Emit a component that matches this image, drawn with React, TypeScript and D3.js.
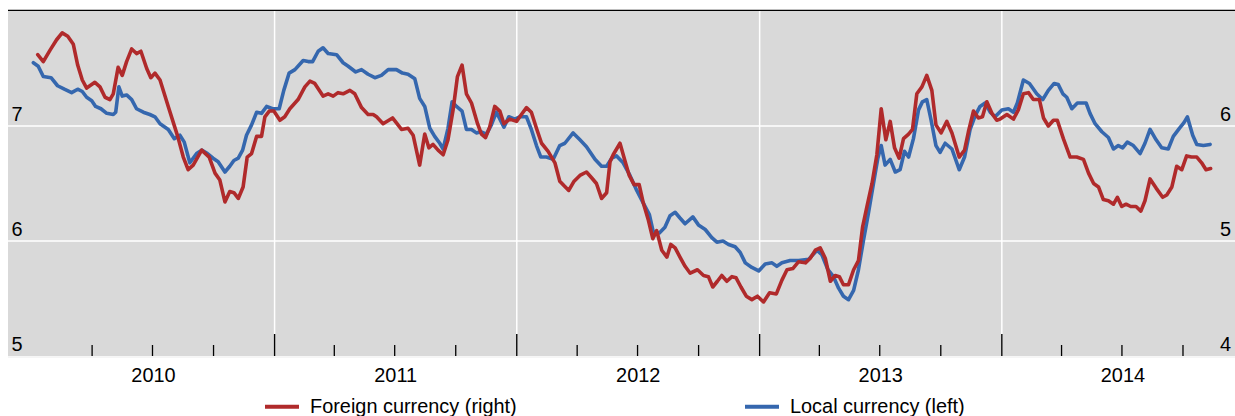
import React from "react";
import * as d3 from "d3";

// [decimal year, value] — local currency, left axis
const localCurrency: [number, number][] = [
  [2010.004, 7.55], [2010.024, 7.52], [2010.045, 7.43], [2010.077, 7.42], [2010.104, 7.35],
  [2010.132, 7.32], [2010.162, 7.29], [2010.187, 7.32], [2010.206, 7.30], [2010.224, 7.25],
  [2010.245, 7.22], [2010.261, 7.17], [2010.283, 7.15], [2010.307, 7.11], [2010.334, 7.10],
  [2010.344, 7.12], [2010.357, 7.34], [2010.371, 7.26], [2010.389, 7.27], [2010.410, 7.23],
  [2010.430, 7.15], [2010.458, 7.12], [2010.485, 7.10], [2010.506, 7.08], [2010.527, 7.02],
  [2010.561, 6.97], [2010.586, 6.89], [2010.609, 6.92], [2010.627, 6.86], [2010.650, 6.68],
  [2010.678, 6.76], [2010.699, 6.79], [2010.723, 6.76], [2010.746, 6.72], [2010.767, 6.69],
  [2010.795, 6.60], [2010.815, 6.65], [2010.832, 6.70], [2010.850, 6.72], [2010.868, 6.79],
  [2010.884, 6.92], [2010.905, 7.01], [2010.926, 7.12], [2010.946, 7.11], [2010.967, 7.17],
  [2010.992, 7.15], [2011.019, 7.15], [2011.038, 7.31], [2011.060, 7.46], [2011.084, 7.49],
  [2011.118, 7.57], [2011.139, 7.56], [2011.157, 7.56], [2011.180, 7.65], [2011.200, 7.68],
  [2011.221, 7.63], [2011.256, 7.62], [2011.283, 7.55], [2011.304, 7.52], [2011.335, 7.47],
  [2011.359, 7.49], [2011.386, 7.45], [2011.414, 7.42], [2011.441, 7.44], [2011.469, 7.49],
  [2011.503, 7.49], [2011.528, 7.46], [2011.551, 7.45], [2011.579, 7.41], [2011.599, 7.24],
  [2011.620, 7.17], [2011.641, 6.98], [2011.661, 6.91], [2011.682, 6.85], [2011.696, 6.80],
  [2011.716, 6.98], [2011.733, 7.21], [2011.751, 7.17], [2011.774, 7.13], [2011.792, 6.97],
  [2011.813, 6.97], [2011.833, 6.94], [2011.851, 6.95], [2011.875, 6.93], [2011.895, 7.01],
  [2011.916, 7.12], [2011.947, 6.99], [2011.967, 7.08], [2011.992, 7.06], [2012.012, 7.08],
  [2012.040, 7.08], [2012.060, 6.97], [2012.081, 6.83], [2012.099, 6.73], [2012.122, 6.73],
  [2012.150, 6.71], [2012.177, 6.83], [2012.198, 6.85], [2012.232, 6.94], [2012.260, 6.88],
  [2012.287, 6.82], [2012.322, 6.71], [2012.349, 6.65], [2012.370, 6.65], [2012.391, 6.72],
  [2012.411, 6.74], [2012.438, 6.68], [2012.466, 6.57], [2012.494, 6.44], [2012.521, 6.33],
  [2012.546, 6.23], [2012.562, 6.08], [2012.587, 6.07], [2012.610, 6.12], [2012.631, 6.22],
  [2012.652, 6.25], [2012.672, 6.20], [2012.693, 6.15], [2012.725, 6.21], [2012.748, 6.14],
  [2012.776, 6.10], [2012.803, 6.03], [2012.824, 5.99], [2012.849, 6.00], [2012.872, 5.97],
  [2012.899, 5.95], [2012.920, 5.90], [2012.941, 5.81], [2012.968, 5.77], [2012.996, 5.74],
  [2013.023, 5.80], [2013.051, 5.81], [2013.071, 5.78], [2013.092, 5.81], [2013.126, 5.83],
  [2013.161, 5.83], [2013.202, 5.84], [2013.237, 5.92], [2013.257, 5.88], [2013.282, 5.75],
  [2013.305, 5.69], [2013.326, 5.59], [2013.346, 5.52], [2013.367, 5.49], [2013.388, 5.57],
  [2013.408, 5.75], [2013.429, 6.01], [2013.449, 6.24], [2013.470, 6.50], [2013.488, 6.72],
  [2013.502, 6.83], [2013.518, 6.66], [2013.539, 6.71], [2013.560, 6.60], [2013.580, 6.62],
  [2013.598, 6.78], [2013.615, 6.73], [2013.635, 6.89], [2013.656, 7.14], [2013.672, 7.21],
  [2013.690, 7.23], [2013.708, 7.05], [2013.728, 6.83], [2013.745, 6.77], [2013.766, 6.85],
  [2013.794, 6.80], [2013.824, 6.62], [2013.846, 6.73], [2013.869, 6.97], [2013.890, 7.09],
  [2013.910, 7.17], [2013.931, 7.20], [2013.952, 7.12], [2013.972, 7.08], [2014.000, 7.14],
  [2014.027, 7.15], [2014.048, 7.12], [2014.064, 7.20], [2014.089, 7.40], [2014.114, 7.37],
  [2014.144, 7.28], [2014.169, 7.23], [2014.192, 7.31], [2014.216, 7.37], [2014.233, 7.36],
  [2014.252, 7.28], [2014.268, 7.25], [2014.289, 7.15], [2014.312, 7.20], [2014.348, 7.20],
  [2014.364, 7.11], [2014.385, 7.02], [2014.413, 6.95], [2014.440, 6.90], [2014.461, 6.80],
  [2014.481, 6.83], [2014.499, 6.81], [2014.518, 6.86], [2014.543, 6.83], [2014.571, 6.76],
  [2014.591, 6.85], [2014.612, 6.97], [2014.637, 6.88], [2014.660, 6.81], [2014.687, 6.80],
  [2014.708, 6.91], [2014.733, 6.98], [2014.752, 7.03], [2014.766, 7.08], [2014.788, 6.92],
  [2014.805, 6.84], [2014.832, 6.83], [2014.860, 6.84],
];

// [decimal year, value] — foreign currency, right axis
const foreignCurrency: [number, number][] = [
  [2010.022, 6.62], [2010.045, 6.56], [2010.073, 6.66], [2010.100, 6.75], [2010.123, 6.81],
  [2010.146, 6.78], [2010.169, 6.71], [2010.187, 6.53], [2010.206, 6.40], [2010.224, 6.33],
  [2010.258, 6.38], [2010.279, 6.34], [2010.300, 6.25], [2010.320, 6.23], [2010.334, 6.28],
  [2010.354, 6.51], [2010.371, 6.44], [2010.389, 6.56], [2010.410, 6.67], [2010.430, 6.63],
  [2010.448, 6.65], [2010.472, 6.50], [2010.489, 6.42], [2010.506, 6.46], [2010.527, 6.40],
  [2010.561, 6.17], [2010.600, 5.91], [2010.623, 5.73], [2010.643, 5.62], [2010.664, 5.66],
  [2010.699, 5.79], [2010.730, 5.73], [2010.754, 5.59], [2010.774, 5.53], [2010.795, 5.34],
  [2010.815, 5.43], [2010.832, 5.42], [2010.850, 5.37], [2010.870, 5.47], [2010.887, 5.73],
  [2010.905, 5.76], [2010.926, 5.91], [2010.946, 5.91], [2010.960, 6.08], [2010.978, 6.13],
  [2010.997, 6.13], [2011.022, 6.05], [2011.042, 6.08], [2011.063, 6.15], [2011.097, 6.23],
  [2011.125, 6.34], [2011.146, 6.39], [2011.166, 6.37], [2011.200, 6.26], [2011.221, 6.28],
  [2011.242, 6.26], [2011.262, 6.29], [2011.283, 6.28], [2011.311, 6.31], [2011.331, 6.28],
  [2011.359, 6.16], [2011.386, 6.10], [2011.407, 6.10], [2011.421, 6.08], [2011.448, 6.02],
  [2011.487, 6.07], [2011.524, 5.97], [2011.551, 5.98], [2011.572, 5.92], [2011.599, 5.66],
  [2011.620, 5.93], [2011.637, 5.81], [2011.654, 5.84], [2011.675, 5.79], [2011.696, 5.75],
  [2011.716, 5.88], [2011.737, 6.14], [2011.755, 6.43], [2011.774, 6.53], [2011.792, 6.28],
  [2011.813, 6.20], [2011.838, 6.02], [2011.854, 5.93], [2011.871, 5.90], [2011.888, 5.99],
  [2011.909, 6.17], [2011.930, 6.13], [2011.947, 6.02], [2011.971, 6.06], [2011.999, 6.04],
  [2012.019, 6.10], [2012.040, 6.16], [2012.060, 6.12], [2012.081, 5.98], [2012.102, 5.85],
  [2012.129, 5.78], [2012.157, 5.68], [2012.177, 5.52], [2012.195, 5.48], [2012.214, 5.44],
  [2012.236, 5.52], [2012.260, 5.57], [2012.287, 5.60], [2012.308, 5.55], [2012.328, 5.50],
  [2012.349, 5.37], [2012.370, 5.42], [2012.384, 5.69], [2012.397, 5.75], [2012.425, 5.85],
  [2012.445, 5.70], [2012.463, 5.57], [2012.483, 5.49], [2012.504, 5.49], [2012.521, 5.33],
  [2012.542, 5.18], [2012.560, 5.02], [2012.576, 5.09], [2012.597, 4.92], [2012.618, 4.86],
  [2012.634, 4.97], [2012.652, 4.94], [2012.672, 4.86], [2012.693, 4.78], [2012.714, 4.72],
  [2012.744, 4.75], [2012.769, 4.70], [2012.789, 4.69], [2012.807, 4.60], [2012.826, 4.65],
  [2012.844, 4.70], [2012.865, 4.65], [2012.886, 4.69], [2012.903, 4.68], [2012.923, 4.60],
  [2012.945, 4.52], [2012.968, 4.49], [2012.991, 4.52], [2013.016, 4.47], [2013.041, 4.55],
  [2013.069, 4.54], [2013.092, 4.66], [2013.113, 4.75], [2013.137, 4.76], [2013.161, 4.82],
  [2013.189, 4.81], [2013.209, 4.85], [2013.230, 4.92], [2013.250, 4.94], [2013.271, 4.85],
  [2013.292, 4.65], [2013.312, 4.70], [2013.329, 4.69], [2013.346, 4.62], [2013.367, 4.62],
  [2013.388, 4.75], [2013.408, 4.83], [2013.425, 5.12], [2013.443, 5.30], [2013.464, 5.50],
  [2013.484, 5.75], [2013.502, 6.15], [2013.521, 5.88], [2013.539, 6.04], [2013.557, 5.81],
  [2013.576, 5.72], [2013.594, 5.89], [2013.615, 5.93], [2013.631, 5.97], [2013.649, 6.28],
  [2013.670, 6.34], [2013.690, 6.44], [2013.711, 6.31], [2013.728, 6.01], [2013.749, 5.94],
  [2013.773, 6.04], [2013.794, 5.94], [2013.824, 5.73], [2013.846, 5.79], [2013.862, 5.95],
  [2013.883, 6.13], [2013.903, 6.07], [2013.920, 6.08], [2013.938, 6.21], [2013.959, 6.11],
  [2013.979, 6.05], [2013.993, 6.06], [2014.021, 6.10], [2014.048, 6.06], [2014.068, 6.14],
  [2014.089, 6.28], [2014.110, 6.29], [2014.130, 6.23], [2014.155, 6.23], [2014.172, 6.07],
  [2014.192, 6.00], [2014.213, 6.05], [2014.229, 6.05], [2014.254, 5.89], [2014.282, 5.73],
  [2014.309, 5.73], [2014.337, 5.71], [2014.358, 5.59], [2014.379, 5.50], [2014.399, 5.47],
  [2014.419, 5.36], [2014.440, 5.35], [2014.461, 5.32], [2014.477, 5.38], [2014.495, 5.30],
  [2014.513, 5.32], [2014.532, 5.30], [2014.554, 5.30], [2014.574, 5.26], [2014.591, 5.35],
  [2014.612, 5.54], [2014.637, 5.46], [2014.664, 5.38], [2014.681, 5.40], [2014.702, 5.47],
  [2014.722, 5.65], [2014.743, 5.62], [2014.763, 5.74], [2014.783, 5.73], [2014.805, 5.73],
  [2014.825, 5.68], [2014.843, 5.62], [2014.862, 5.63],
];

const years = [2010, 2011, 2012, 2013, 2014];
const leftTicks = [5, 6, 7];
const rightTicks = [4, 5, 6];
const legendItems = [
  { label: "Foreign currency (right)", color: "#b02a2b" },
  { label: "Local currency (left)", color: "#3567ae" },
];

const W = 1235;
const H = 416;
const plot = { left: 8, right: 1235, top: 11, bottom: 356 };
const FONT = "'Liberation Sans', Arial, sans-serif";
const FS = 19.9;

function decToDate(t: number): Date {
  const y = Math.floor(t);
  const s = new Date(y, 0, 1).getTime();
  const e = new Date(y + 1, 0, 1).getTime();
  return new Date(s + (t - y) * (e - s));
}

export default function App() {
  const x = d3
    .scaleTime()
    .domain([decToDate(2009.8993), decToDate(2014.9627)])
    .range([plot.left, plot.right]);
  const yL = d3.scaleLinear().domain([5, 8]).range([plot.bottom, plot.top]);
  const yR = d3.scaleLinear().domain([4, 7]).range([plot.bottom, plot.top]);

  const lineL = d3
    .line<[number, number]>()
    .x((d) => x(decToDate(d[0])))
    .y((d) => yL(d[1]))
    .curve(d3.curveLinear);
  const lineR = d3
    .line<[number, number]>()
    .x((d) => x(decToDate(d[0])))
    .y((d) => yR(d[1]))
    .curve(d3.curveLinear);

  const yearStarts = years.slice(1).map((y) => new Date(y, 0, 1));
  const quarters = d3
    .timeMonth.every(3)!
    .range(new Date(2010, 0, 1), new Date(2015, 0, 1))
    .filter((d) => d.getMonth() !== 0);
  const yearMids = years.map(
    (y) => new Date((new Date(y, 0, 1).getTime() + new Date(y + 1, 0, 1).getTime()) / 2)
  );

  return (
    <svg
      width={W}
      height={H}
      style={{ position: "absolute", left: 0, top: 0, background: "#fff" }}
      fontFamily={FONT}
    >
      <rect
        x={plot.left}
        y={plot.top}
        width={plot.right - plot.left}
        height={plot.bottom - plot.top}
        fill="#d9d9d9"
      />
      <line x1={plot.left} x2={plot.right} y1={10.3} y2={10.3} stroke="#000" strokeWidth={1.3} />
      {[6, 7].map((v) => (
        <line key={"hg" + v} x1={plot.left} x2={plot.right} y1={yL(v)} y2={yL(v)} stroke="#fff" strokeWidth={1.5} />
      ))}
      {yearStarts.map((d, i) => (
        <line key={"vg" + i} x1={x(d)} x2={x(d)} y1={plot.top} y2={plot.bottom} stroke="#fff" strokeWidth={1.5} />
      ))}
      <line x1={plot.left} x2={plot.right} y1={plot.bottom + 1} y2={plot.bottom + 1} stroke="#ececec" strokeWidth={1} />
      {quarters.map((d, i) => (
        <line key={"mt" + i} x1={x(d)} x2={x(d)} y1={plot.bottom} y2={plot.bottom - 11} stroke="#000" strokeWidth={1.3} />
      ))}
      {yearStarts.map((d, i) => (
        <line key={"Mt" + i} x1={x(d)} x2={x(d)} y1={plot.bottom} y2={plot.bottom - 22} stroke="#000" strokeWidth={1.4} />
      ))}
      <path d={lineL(localCurrency) || ""} fill="none" stroke={legendItems[1].color} strokeWidth={3.6} strokeLinejoin="round" strokeLinecap="round" />
      <path d={lineR(foreignCurrency) || ""} fill="none" stroke={legendItems[0].color} strokeWidth={3.6} strokeLinejoin="round" strokeLinecap="round" />
      {leftTicks.map((v) => (
        <text key={"lt" + v} x={11.5} y={yL(v) - 5} fontSize={FS} fill="#000">
          {v}
        </text>
      ))}
      {rightTicks.map((v) => (
        <text key={"rt" + v} x={1231} y={yR(v) - 5} fontSize={FS} fill="#000" textAnchor="end">
          {v}
        </text>
      ))}
      {yearMids.map((d, i) => (
        <text key={"yl" + i} x={x(d)} y={382.3} fontSize={FS} fill="#000" textAnchor="middle">
          {years[i]}
        </text>
      ))}
      {legendItems.map((it, i) => {
        const lx = i === 0 ? 265 : 745;
        return (
          <g key={"lg" + i}>
            <line x1={lx} x2={lx + 34} y1={406.7} y2={406.7} stroke={it.color} strokeWidth={4} />
            <text x={lx + 45} y={413} fontSize={FS} fill="#000">
              {it.label}
            </text>
          </g>
        );
      })}
    </svg>
  );
}
